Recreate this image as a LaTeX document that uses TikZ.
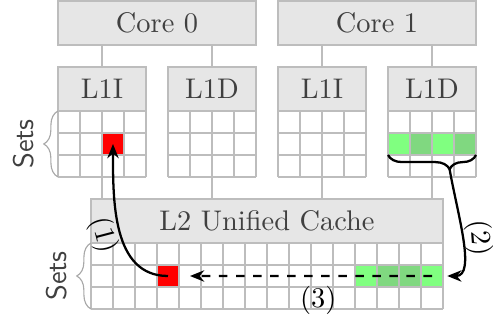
\documentclass[tikz,border=0pt]{standalone}
\usepackage{xcolor}
\usepackage{tikz}
\usetikzlibrary{arrows.meta,calc,decorations.pathreplacing}
\definecolor{izgaraGri}{HTML}{BDBDBD}
\definecolor{baslikGri}{HTML}{E6E6E6}
\definecolor{yaziGri}{HTML}{404040}
\definecolor{parantezGri}{HTML}{A8A8A8}
\definecolor{hucreKirmizi}{HTML}{FF0000}
\definecolor{acikYesil}{HTML}{80FF80}
\definecolor{koyuYesil}{HTML}{80D880}
\newcommand{\hucre}{0.2722cm}

\begin{document}
\begin{tikzpicture}[scale=0.2722,
  baslik/.style={draw=izgaraGri,fill=baslikGri,text=yaziGri,inner sep=0pt,minimum height=2*\hucre},
  izgara/.style={draw=izgaraGri,line width=0.4pt},
  dolgu/.style={minimum size=\hucre,inner sep=0pt,outer sep=0pt},
  setparantez/.style={draw=parantezGri,decorate,decoration={brace,amplitude=5pt}},
  setyazi/.style={font=\sffamily,text=yaziGri,rotate=90,anchor=south},
  ok/.style={-{Stealth[length=5pt,width=4pt]},thick}]
\useasboundingbox (-2.636,0.045) rectangle (19.773,-14.455);
% basliklar
\node[baslik,minimum width=9*\hucre] (cekirdek0) at (4.5,-1) {Core 0};
\node[baslik,minimum width=9*\hucre] (cekirdek1) at (14.5,-1) {Core 1};
\node[baslik,minimum width=4*\hucre] (l1i0) at (2,-4) {L1I};
\node[baslik,minimum width=4*\hucre] (l1d0) at (7,-4) {L1D};
\node[baslik,minimum width=4*\hucre] (l1i1) at (12,-4) {L1I};
\node[baslik,minimum width=4*\hucre] (l1d1) at (17,-4) {L1D};
\node[baslik,minimum width=16*\hucre] (l2) at (9.5,-10) {L2 Unified Cache};
% baglantilar
\foreach \c/\l in {cekirdek0/l1i0,cekirdek0/l1d0,cekirdek1/l1i1,cekirdek1/l1d1}{
  \draw[izgara] (\c.south -| \l.north) -- (\l.north);
  \draw[izgara] (\l.south) -- (\l.south |- l2.north);
}
% dolu hucreler
\node[dolgu,fill=hucreKirmizi] (kirmizi1) at (2.5,-6.5) {};
\foreach \i/\renk in {0/acikYesil,1/koyuYesil,2/acikYesil,3/koyuYesil}
  \node[dolgu,fill=\renk] (y1\i) at (15.5+\i,-6.5) {};
\node[dolgu,fill=hucreKirmizi] (kirmizi2) at (5,-12.5) {};
\foreach \i/\renk in {0/acikYesil,1/koyuYesil,2/koyuYesil,3/acikYesil}
  \node[dolgu,fill=\renk] (y2\i) at (14+\i,-12.5) {};
% izgaralar
\foreach \x in {0,5,10,15}
  \draw[izgara] (\x,-8) grid (\x+4,-5);
\begin{scope}[shift={(1.5,0)}]
  \draw[izgara] (0,-14) grid (16,-11);
\end{scope}
% setler
\draw[setparantez] (0,-8) -- (0,-5);
\node[setyazi] (setler1) at (-0.65,-6.5) {Sets};
\draw[setparantez] (1.5,-14) -- (1.5,-11);
\node[setyazi] (setler2) at (0.85,-12.5) {Sets};
% oklar
\draw[thick,decorate,decoration={brace,amplitude=5pt,aspect=0.7,mirror}] (y10.south west) -- (y13.south east);
\coordinate (parantezUcu) at ($(y10.south west)!0.7!(y13.south east)+(0,-0.65)$);
\coordinate (hedef) at ($(kirmizi2.center)+(1,0)$);
\draw[ok] (kirmizi2.center) to[out=180,in=-90] node[midway,sloped,below,inner sep=0.5pt] (etiket1) {(1)} (kirmizi1.center);
\draw[ok,shorten >=1.5pt] (parantezUcu) to[out=-80,in=0,out looseness=1.1,in looseness=0.8] node[midway,sloped,above,inner sep=0.8pt] (etiket2) {(2)} (y23.east);
\draw[ok,dashed] (y23.center) -- (hedef) node[pos=0.47,below] (etiket3) {(3)};
\end{tikzpicture}
\end{document}
